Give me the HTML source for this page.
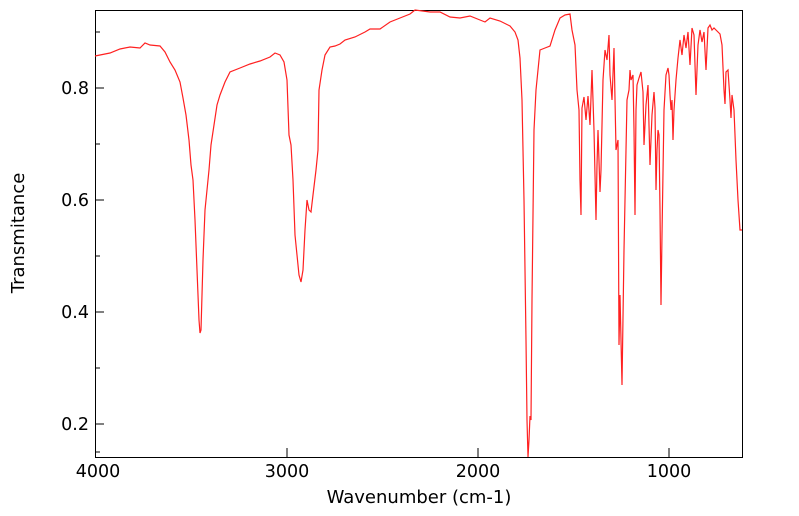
<!DOCTYPE html>
<html><head><meta charset="utf-8"><style>body{margin:0;background:#fff}svg{display:block}text{font-family:"DejaVu Sans","Liberation Sans",sans-serif;fill:#000}</style></head>
<body>
<svg width="799" height="516" viewBox="0 0 799 516" xmlns="http://www.w3.org/2000/svg">
<rect x="95.5" y="10.5" width="647" height="447" fill="#fff" stroke="#000" stroke-width="1"/>
<g stroke="#000" stroke-width="1">
<line x1="95" y1="88" x2="104" y2="88"/><line x1="95" y1="200" x2="104" y2="200"/><line x1="95" y1="312" x2="104" y2="312"/><line x1="95" y1="424" x2="104" y2="424"/>
<line x1="95" y1="32" x2="100" y2="32"/><line x1="95" y1="144" x2="100" y2="144"/><line x1="95" y1="256" x2="100" y2="256"/><line x1="95" y1="368" x2="100" y2="368"/><line x1="95" y1="452" x2="100" y2="452"/>
<line x1="287" y1="457" x2="287" y2="448"/><line x1="478" y1="457" x2="478" y2="448"/><line x1="669" y1="457" x2="669" y2="448"/>
</g>
<g stroke="#000" stroke-width="1" id="minor"></g>
<polyline fill="none" stroke="#ff2020" stroke-width="1.2" points="95,56 110,53 120,49 130,47 140,48 145,43 150,45 160,46 165,52 170,62 175,70 180,82 183,98 186,115 189,140 191,165 193,180 195,220 197,270 199,320 200,333 201,330 203,260 205,210 207,190 209,170 211,145 214,125 217,105 220,95 225,82 230,72 240,68 250,64 260,61 270,57 275,53 280,55 284,62 287,80 289,135 291,145 293,180 295,235 297,255 299,275 301,282 303,270 305,230 307,200 309,210 311,212 313,195 316,170 318,150 319,90 322,70 325,55 330,47 335,46 340,44 345,40 355,37 365,32 370,29 380,29 390,22 400,18 410,14 415,10 430,12 440,12 450,17 460,18 470,16 480,20 485,22 490,18 500,21 510,26 515,32 518,40 520,58 522,100 524,200 526,340 527,420 528,457 529,440 530,416 531,420 532,300 534,130 536,90 540,50 545,48 550,46 555,30 560,18 565,15 570,14 572,30 575,45 577,90 579,110 580,180 581,215 582,108 584,97 586,120 588,96 590,125 592,70 594,130 596,220 597,165 598,130 600,192 601,170 603,80 605,50 607,60 609,35 610,75 612,100 614,48 616,150 618,140 619,345 620,295 621,340 622,385 624,250 627,100 629,90 630,70 631,80 633,75 634,130 635,215 636,110 637,85 639,78 641,72 643,92 644,145 645,125 646,105 648,85 650,165 651,140 652,115 654,92 655,108 656,190 657,150 658,130 659,135 660,210 661,305 662,235 664,110 666,75 668,68 669,75 670,95 671,110 672,100 673,140 674,110 676,80 678,58 680,40 682,55 684,35 686,48 688,32 690,65 692,28 694,35 696,95 698,45 700,30 702,42 704,32 706,70 708,28 710,25 712,30 714,28 716,30 718,32 720,34 722,45 724,90 725,104 726,72 728,70 730,100 731,118 732,95 734,110 736,160 738,200 740,230 742,230"/>
<g font-size="17.5" text-anchor="end">
<text x="89" y="94">0.8</text><text x="89" y="206">0.6</text><text x="89" y="318">0.4</text><text x="89" y="430">0.2</text>
</g>
<g font-size="17.5" text-anchor="middle">
<text x="98" y="477">4000</text><text x="287" y="477">3000</text><text x="478" y="477">2000</text><text x="669" y="477">1000</text>
<text x="419" y="503" font-size="18">Wavenumber (cm-1)</text>
<text transform="translate(24,233) rotate(-90)" font-size="18">Transmitance</text>
</g>
<script>
var g=document.getElementById('minor'),s='';
for(var v=4000;v>=620;v-=100){if(v%1000==0)continue;var x=95+(4000-v)*0.1913;s+='<line x1="'+x+'" y1="457" x2="'+x+'" y2="452"/>';}
g.innerHTML=s;
</script>
</svg>
</body></html>
